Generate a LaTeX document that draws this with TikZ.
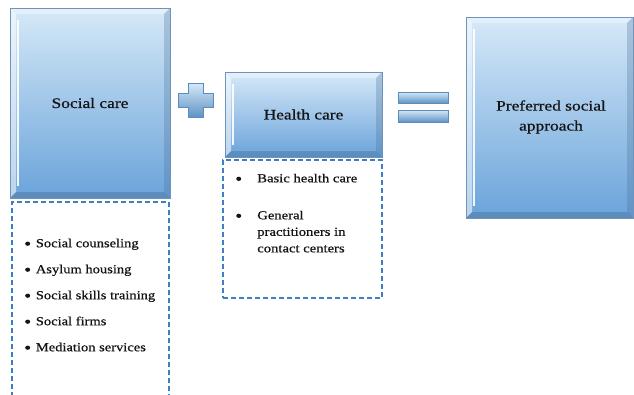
\documentclass[tikz,border=0pt]{standalone}
\usepackage{fontspec}
\setmainfont[FakeBold=0.6]{Liberation Serif}
\definecolor{boxtop}{HTML}{D6E9F8}
\definecolor{boxbot}{HTML}{6AA3DA}
\definecolor{boxedge}{HTML}{6E93BD}
\definecolor{dashblue}{HTML}{3F7EC6}
\definecolor{signedge}{HTML}{5A8CC2}
\definecolor{txt}{HTML}{141414}
\newcommand{\bigdot}{\raisebox{0.25ex}{\tikz\fill[txt] (0,0) circle (2.1pt);}}
\tikzset{
  bluebox/.style={draw=boxedge, line width=0.7pt, top color=boxtop, bottom color=boxbot,
    inner sep=0pt, text=txt, align=center,
    path picture={
      \fill[white, opacity=0.55] (path picture bounding box.north west) -- (path picture bounding box.south west)
        -- ([xshift=6pt,yshift=6pt]path picture bounding box.south west) -- ([xshift=6pt,yshift=-6pt]path picture bounding box.north west) -- cycle;
      \fill[white, opacity=0.35] (path picture bounding box.north west) -- (path picture bounding box.north east)
        -- ([xshift=-6pt,yshift=-6pt]path picture bounding box.north east) -- ([xshift=6pt,yshift=-6pt]path picture bounding box.north west) -- cycle;
      \fill[boxbot!70!black, opacity=0.3] (path picture bounding box.north east) -- (path picture bounding box.south east)
        -- ([xshift=-6pt,yshift=6pt]path picture bounding box.south east) -- ([xshift=-6pt,yshift=-6pt]path picture bounding box.north east) -- cycle;
      \fill[boxbot!60!black, opacity=0.35] (path picture bounding box.south west) -- (path picture bounding box.south east)
        -- ([xshift=-6pt,yshift=6pt]path picture bounding box.south east) -- ([xshift=6pt,yshift=6pt]path picture bounding box.south west) -- cycle;
      \draw[white, line width=1.2pt, opacity=0.9] ([xshift=8pt,yshift=-12pt]path picture bounding box.north west) -- ([xshift=8pt,yshift=12pt]path picture bounding box.south west);
    }},
  titletext/.style={font=\fontsize{14.5}{20}\selectfont, xscale=1.2},
  dashbox/.style={draw=dashblue, line width=1.5pt, dash pattern=on 5pt off 3pt, inner sep=0pt, fill=white},
  listtext/.style={font=\fontsize{12.3}{26}\selectfont, xscale=1.18, align=left, inner sep=0pt, text=txt},
  hlisttext/.style={font=\fontsize{12.3}{16.5}\selectfont, xscale=1.19, align=left, inner sep=0pt, text=txt},
  signshape/.style={draw=signedge, line width=0.6pt, top color=boxtop, bottom color=boxbot!90!black}
}
\begin{document}
\begin{tikzpicture}[x=1pt, y=-1pt]
\useasboundingbox (0,0) rectangle (634,394);
\fill[white] (0,0) rectangle (634,394);

% dashed boxes
\node[dashbox, minimum width=157pt, minimum height=200pt] (sdash) at (90.5,302) {};
\node[dashbox, minimum width=159pt, minimum height=138pt] (hdash) at (302.5,229) {};

% main boxes
\node[bluebox, minimum width=160pt, minimum height=190pt] (social) at (90,103) {};
\node[titletext, text=txt] (socialt) at (social.center) {Social care};
\node[bluebox, minimum width=157pt, minimum height=85pt] (health) at (303.5,114.5) {};
\node[titletext, text=txt] (healtht) at (health.center) {Health care};
\node[bluebox, minimum width=167pt, minimum height=201pt] (pref) at (549.5,117.5) {};
\node[titletext, text=txt, align=center] (preft) at (551,117) {Preferred social\\approach};

% plus sign
\draw[signshape] (188,83) -- (203,83) -- (203,93) -- (213,93) -- (213,107) -- (203,107) -- (203,117)
  -- (188,117) -- (188,107) -- (178,107) -- (178,93) -- (188,93) -- cycle;
% equals sign
\draw[signshape] (398,92) rectangle (448,103);
\draw[signshape] (398,110) rectangle (448,122);

% lists
\node[listtext, anchor=north west] (slist) at (25,238.5) {%
\makebox[9pt][l]{\bigdot}Social counseling\\
\makebox[9pt][l]{\bigdot}Asylum housing\\
\makebox[9pt][l]{\bigdot}Social skills training\\
\makebox[9pt][l]{\bigdot}Social firms\\
\makebox[9pt][l]{\bigdot}Mediation services};

\node[hlisttext, anchor=north west] (hlist) at (236,173.6) {%
\makebox[17.7pt][l]{\bigdot}Basic health care\\[20.5pt]
\makebox[17.7pt][l]{\bigdot}General\\
\hspace*{17.7pt}practitioners in\\
\hspace*{17.7pt}contact centers};
\end{tikzpicture}
\end{document}
